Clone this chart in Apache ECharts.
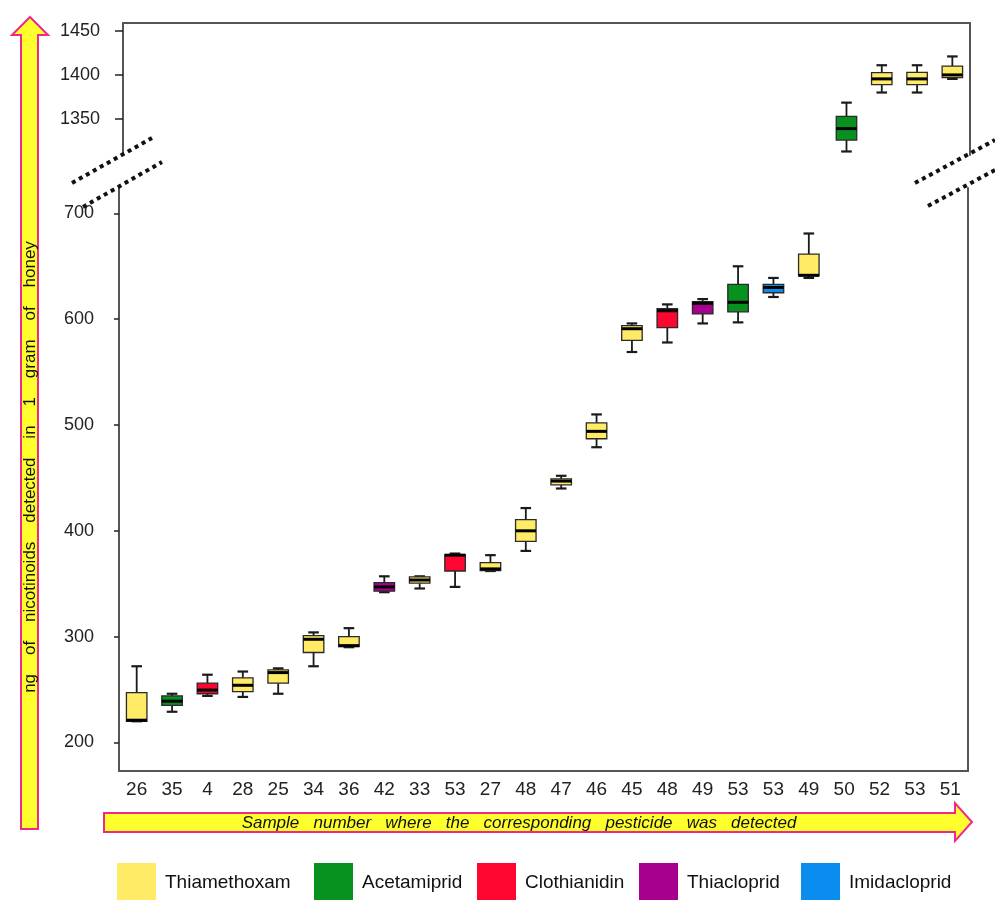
<!DOCTYPE html>
<html><head><meta charset="utf-8">
<script src="https://cdn.jsdelivr.net/npm/echarts@6/dist/echarts.min.js"></script>
<style>html,body{margin:0;padding:0;background:#fff}#c{width:995px;height:900px}</style>
</head><body><div id="c"></div>
<script>
// ---- data ----
const sampleLabels = ['26','35','4','28','25','34','36','42','33','53','27','48','47','46','45','48','49','53','53','49','50','52','53','51'];
const pesticideOf = ['Thiamethoxam','Acetamiprid','Clothianidin','Thiamethoxam','Thiamethoxam','Thiamethoxam','Thiamethoxam','Thiacloprid','Thiamethoxam','Clothianidin','Thiamethoxam','Thiamethoxam','Thiamethoxam','Thiamethoxam','Thiamethoxam','Clothianidin','Thiacloprid','Acetamiprid','Imidacloprid','Thiamethoxam','Acetamiprid','Thiamethoxam','Thiamethoxam','Thiamethoxam'];
const mins    = [220, 229, 244, 243, 246, 272, 290, 342, 345.5, 347, 362, 381, 440, 479, 569, 578, 596, 597, 621, 639, 1313, 1380, 1380, 1395.5];
const q1s     = [220, 235, 246, 248, 256, 285, 290.5, 343, 350.5, 362, 362.5, 390, 443.5, 487, 580, 592, 605, 607, 625, 641, 1326, 1389, 1389, 1397];
const medians = [221, 239, 249.5, 254, 266, 297.5, 291.5, 347, 353.5, 377, 364, 400, 447, 494, 591, 608, 615, 616, 630, 641.5, 1339, 1395.5, 1395.5, 1400];
const q3s     = [247, 244, 256, 261, 268.5, 301, 300, 351, 356.5, 377.5, 370, 410.5, 449, 502, 594, 610, 616.5, 633, 633, 661.5, 1353, 1402.5, 1403, 1410];
const maxs    = [272, 246, 264, 267, 270, 304, 308, 357, 357, 378.5, 377, 421.5, 452, 510, 596, 614, 619, 650, 639, 681, 1368.5, 1411, 1411, 1421];
const pesticides = ['Thiamethoxam','Acetamiprid','Clothianidin','Thiacloprid','Imidacloprid'];
const pesticideColors = ['#FFEB65','#07911F','#FF0532','#A8008E','#0B8DF0'];
const lowerTicks = [200, 300, 400, 500, 600, 700];
const upperTicks = [1350, 1400, 1450];
const lowerRange = [173, 724];
const upperRange = [1309, 1459];
const yTitle = 'ng    of    nicotinoids    detected    in    1    gram    of    honey';
const xTitle = 'Sample   number   where   the   corresponding   pesticide   was   detected';

const FONT = 'Liberation Sans, Arial, sans-serif';

function renderBox(params, api) {
  const x = api.value(0);
  const cMed = api.coord([x, api.value(3)]);
  const cx = cMed[0];
  const yMin = api.coord([x, api.value(1)])[1];
  const yQ1 = api.coord([x, api.value(2)])[1];
  const yMed = cMed[1];
  const yQ3 = api.coord([x, api.value(4)])[1];
  const yMax = api.coord([x, api.value(5)])[1];
  const band = api.size([1, 0])[0];
  const bw = band * 0.58, cw = band * 0.3;
  const stroke = '#1a1a1a';
  const fill = api.visual('color');
  return {type: 'group', children: [
    {type: 'line', shape: {x1: cx, y1: yMax, x2: cx, y2: yQ3}, style: {stroke, lineWidth: 1.8}},
    {type: 'line', shape: {x1: cx, y1: yQ1, x2: cx, y2: yMin}, style: {stroke, lineWidth: 1.8}},
    {type: 'line', shape: {x1: cx - cw / 2, y1: yMax, x2: cx + cw / 2, y2: yMax}, style: {stroke, lineWidth: 2.2}},
    {type: 'line', shape: {x1: cx - cw / 2, y1: yMin, x2: cx + cw / 2, y2: yMin}, style: {stroke, lineWidth: 2.2}},
    {type: 'rect', shape: {x: cx - bw / 2, y: yQ3, width: bw, height: Math.max(yQ1 - yQ3, 1)}, style: {fill, stroke: '#2a2a2a', lineWidth: 1.3}},
    {type: 'line', shape: {x1: cx - bw / 2, y1: yMed, x2: cx + bw / 2, y2: yMed}, style: {stroke: '#000', lineWidth: 3}}
  ]};
}

const series = [];
pesticides.forEach((p, pi) => {
  [0, 1].forEach(g => {
    const items = [];
    sampleLabels.forEach((lab, i) => {
      if (pesticideOf[i] !== p) return;
      const upper = medians[i] > lowerRange[1];
      if ((g === 1) !== upper) return;
      items.push([i, mins[i], q1s[i], medians[i], q3s[i], maxs[i]]);
    });
    if (!items.length) return;
    series.push({
      type: 'custom', name: p, xAxisIndex: g, yAxisIndex: g * 2,
      renderItem: renderBox, encode: {x: 0, y: [1, 2, 3, 4, 5]},
      itemStyle: {color: pesticideColors[pi]}, data: items, clip: false
    });
  });
});

const legendLefts = [117, 314, 477, 639, 801];
const legends = pesticides.map((p, i) => ({
  left: legendLefts[i], top: 863, itemWidth: 39, itemHeight: 40, icon: 'rect', selectedMode: false,
  data: [p], padding: 0,
  textStyle: {fontSize: 19, color: '#111', fontFamily: FONT, padding: [0, 0, 0, 4]}
}));

const frameLine = {color: '#555', width: 2};
const chart = echarts.init(document.getElementById('c'), null, {renderer: 'canvas'});
chart.setOption({
  animation: false,
  backgroundColor: '#fff',
  grid: [
    {left: 119, width: 849, top: 188, height: 583, outerBoundsMode: 'none'},
    {left: 123, width: 847, top: 23, height: 132, outerBoundsMode: 'none'}
  ],
  xAxis: [
    {gridIndex: 0, type: 'category', data: sampleLabels, position: 'bottom', boundaryGap: true,
     axisLine: {onZero: false, lineStyle: frameLine},
     axisTick: {alignWithLabel: true, length: 7, lineStyle: {color: '#222', width: 1.5}},
     axisLabel: {interval: 0, fontSize: 19, color: '#222', margin: 9, fontFamily: FONT}},
    {gridIndex: 1, type: 'category', data: sampleLabels, position: 'top', boundaryGap: true,
     axisLine: {onZero: false, lineStyle: frameLine}, axisTick: {show: false}, axisLabel: {show: false}}
  ],
  yAxis: [
    {gridIndex: 0, type: 'value', min: lowerRange[0], max: lowerRange[1], position: 'left',
     axisLine: {show: true, onZero: false, lineStyle: frameLine},
     axisTick: {show: true, customValues: lowerTicks, length: 5, lineStyle: {color: '#222', width: 1.5}},
     axisLabel: {customValues: lowerTicks, fontSize: 18, color: '#222', align: 'left', margin: 55, fontFamily: FONT, formatter: v => String(v)},
     splitLine: {show: false}},
    {gridIndex: 0, type: 'value', min: lowerRange[0], max: lowerRange[1], position: 'right',
     axisLine: {show: true, onZero: false, lineStyle: frameLine}, axisTick: {show: false}, axisLabel: {show: false}, splitLine: {show: false}},
    {gridIndex: 1, type: 'value', min: upperRange[0], max: upperRange[1], position: 'left',
     axisLine: {show: true, onZero: false, lineStyle: frameLine},
     axisTick: {show: true, customValues: upperTicks, length: 8, lineStyle: {color: '#222', width: 1.5}},
     axisLabel: {customValues: upperTicks, fontSize: 18, color: '#222', align: 'left', margin: 63, fontFamily: FONT, formatter: v => String(v)},
     splitLine: {show: false}},
    {gridIndex: 1, type: 'value', min: upperRange[0], max: upperRange[1], position: 'right',
     axisLine: {show: true, onZero: false, lineStyle: frameLine}, axisTick: {show: false}, axisLabel: {show: false}, splitLine: {show: false}}
  ],
  legend: legends,
  series,
  graphic: [
    {type: 'polygon', z: 100, shape: {points: [[30, 17], [48, 35], [38, 35], [38, 829], [21, 829], [21, 35], [12, 35]]},
     style: {fill: '#FFFF2E', stroke: '#F0288C', lineWidth: 2}},
    {type: 'text', z: 101, x: 30, y: 467, rotation: Math.PI / 2,
     style: {text: yTitle, fontSize: 17, fill: '#111', align: 'center', verticalAlign: 'middle', fontFamily: FONT}},
    {type: 'polygon', z: 100, shape: {points: [[104, 813], [955, 813], [955, 803], [972, 822], [955, 841], [955, 832], [104, 832]]},
     style: {fill: '#FFFF2E', stroke: '#F0288C', lineWidth: 2}},
    {type: 'text', z: 101, x: 519, y: 823,
     style: {text: xTitle, fontSize: 17, fontStyle: 'italic', fill: '#111', align: 'center', verticalAlign: 'middle', fontFamily: FONT}},
    {type: 'line', z: 100, shape: {x1: 72, y1: 183, x2: 152, y2: 138}, style: {stroke: '#111', lineWidth: 4, lineDash: [4, 4]}},
    {type: 'line', z: 100, shape: {x1: 83, y1: 207, x2: 162, y2: 162}, style: {stroke: '#111', lineWidth: 4, lineDash: [4, 4]}},
    {type: 'line', z: 100, shape: {x1: 915, y1: 183, x2: 995, y2: 140}, style: {stroke: '#111', lineWidth: 4, lineDash: [4, 4]}},
    {type: 'line', z: 100, shape: {x1: 928, y1: 206, x2: 995, y2: 170}, style: {stroke: '#111', lineWidth: 4, lineDash: [4, 4]}}
  ]
});
</script></body></html>
